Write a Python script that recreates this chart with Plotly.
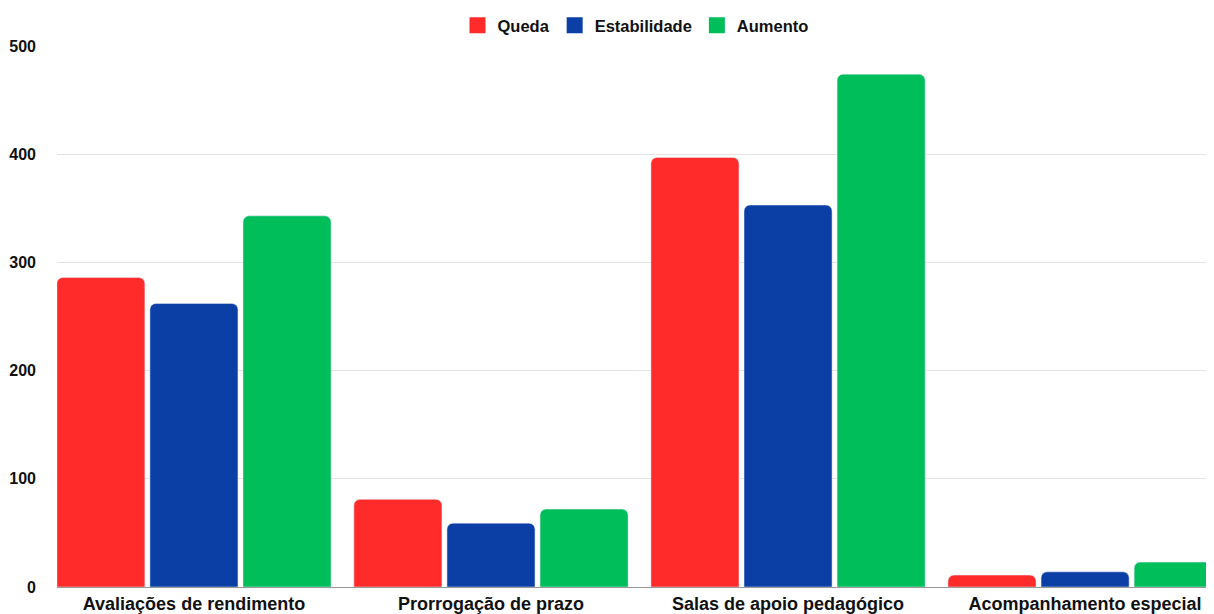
import plotly.graph_objects as go

categories = ["Avaliações de rendimento", "Prorrogação de prazo", "Salas de apoio pedagógico", "Acompanhamento especial"]
queda = [286, 81, 397, 11]
estabilidade = [262, 59, 353, 14]
aumento = [343, 72, 474, 23]
series_names = ["Queda", "Estabilidade", "Aumento"]
colors = ["#FF2B2B", "#0B3FA6", "#00BE5A"]

fig = go.Figure()
for name, vals, col in zip(series_names, [queda, estabilidade, aumento], colors):
    fig.add_trace(go.Bar(x=categories, y=vals, name=name, marker=dict(color=col, cornerradius=6),
                         showlegend=False))
    fig.add_trace(go.Scatter(x=[None], y=[None], mode="markers", name=name,
                             marker=dict(symbol="square", size=22, color=col)))

FAM = "Liberation Sans, Arial, sans-serif"
fig.update_layout(
    width=1206, height=606,
    margin=dict(l=49, r=0, t=36, b=19),
    paper_bgcolor="white", plot_bgcolor="white",
    barmode="group", bargap=0.06, bargroupgap=0.054,
    font=dict(family=FAM, size=15, color="#222"),
    legend=dict(orientation="h", x=0.5, xanchor="center", y=1.07, yanchor="top",
                font=dict(family=FAM, size=16.5, color="#111", weight="bold"),
                itemsizing="trace", tracegroupgap=0, itemwidth=30),
    xaxis=dict(range=[-0.461, 3.434], showgrid=False, ticks="", showline=False,
               ticklabelstandoff=4,
               tickfont=dict(family=FAM, size=18, color="#111", weight="bold")),
    yaxis=dict(range=[0, 500], tickvals=[0, 100, 200, 300, 400, 500], showgrid=True,
               gridcolor="#e3e3e3", gridwidth=1, zeroline=True, zerolinecolor="#999", zerolinewidth=1,
               ticklabelstandoff=20,
               tickfont=dict(family=FAM, size=16, color="#111", weight="bold")),
)
fig.write_html("out.html")
